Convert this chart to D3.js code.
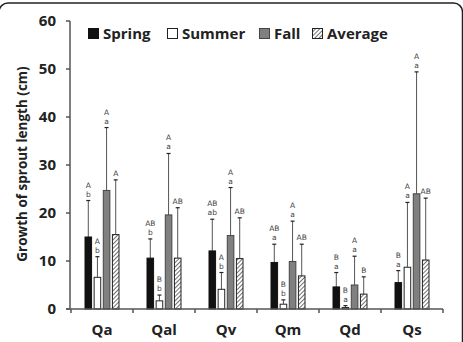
<!DOCTYPE html>
<html><head><meta charset="utf-8">
<script src="https://cdn.jsdelivr.net/npm/d3@7"></script>
<style>body{margin:0;background:#fff}svg{display:block}</style>
</head><body>
<script>
const categories = ["Qa","Qal","Qv","Qm","Qd","Qs"];
const series = ["Spring","Summer","Fall","Average"];
const spring  = [15.0, 10.6, 12.1, 9.7, 4.6, 5.5];
const summer  = [6.6, 1.7, 4.1, 1.0, 0.3, 8.7];
const fall    = [24.7, 19.6, 15.3, 9.9, 5.0, 24.0];
const average = [15.5, 10.6, 10.5, 6.9, 3.1, 10.2];
const springErr  = [22.6, 14.6, 18.7, 13.5, 7.6, 8.0];
const summerErr  = [10.9, 2.9, 7.6, 1.9, 0.7, 22.2];
const fallErr    = [37.8, 32.4, 25.3, 18.3, 11.0, 49.4];
const averageErr = [26.9, 21.1, 19.0, 13.5, 6.7, 23.1];
const springUpper  = ["A","AB","AB","AB","B","B"];
const springLower  = ["b","b","ab","a","a","a"];
const summerUpper  = ["A","B","A","B","B","A"];
const summerLower  = ["b","b","b","b","a","a"];
const fallUpper    = ["A","A","A","A","A","A"];
const fallLower    = ["a","a","a","a","a","a"];
const averageUpper = ["A","AB","AB","AB","B","AB"];
const yTicks = [0,10,20,30,40,50,60];
const yLabel = "Growth of sprout length (cm)";

const W=463,H=342;
const svg=d3.select("body").append("svg").attr("width",W).attr("height",H);
const defs=svg.append("defs");
const pat=defs.append("pattern").attr("id","hatch").attr("patternUnits","userSpaceOnUse")
  .attr("width",3).attr("height",3).attr("patternTransform","rotate(45)");
pat.append("rect").attr("width",3).attr("height",3).attr("fill","#fff");
pat.append("line").attr("x1",0).attr("y1",0).attr("x2",0).attr("y2",3).attr("stroke","#222").attr("stroke-width",1.3);

// frame
svg.append("rect").attr("x",-1).attr("y",3).attr("width",463.5).attr("height",400).attr("rx",9)
  .attr("fill","none").attr("stroke","#222").attr("stroke-width",1.5);

const font="'Open Sans', sans-serif";
const x=d3.scaleBand().domain(categories).range([71,443]);
const xi=d3.scaleBand().domain(series).range([-17,17]).paddingInner(0.28);
const y=d3.scaleLinear().domain([0,60]).range([309,21]);

const styles={
  Spring:{fill:"#111",stroke:"#111"},
  Summer:{fill:"#fff",stroke:"#222"},
  Fall:{fill:"#808080",stroke:"#444"},
  Average:{fill:"url(#hatch)",stroke:"#222"}
};
const vals={Spring:spring,Summer:summer,Fall:fall,Average:average};
const errs={Spring:springErr,Summer:summerErr,Fall:fallErr,Average:averageErr};
const ups={Spring:springUpper,Summer:summerUpper,Fall:fallUpper,Average:averageUpper};
const lows={Spring:springLower,Summer:summerLower,Fall:fallLower,Average:null};

const data=[];
categories.forEach((c,i)=>series.forEach(s=>data.push({c,s,v:vals[s][i],e:errs[s][i],u:ups[s][i],l:lows[s]?lows[s][i]:null})));

const cx=d=>x(d.c)+x.bandwidth()/2+xi(d.s);
const bw=xi.bandwidth();

// error bars
const eg=svg.append("g").attr("stroke","#555").attr("stroke-width",1);
data.forEach(d=>{
  const mx=cx(d)+bw/2;
  eg.append("line").attr("x1",mx).attr("x2",mx).attr("y1",y(d.v)).attr("y2",y(d.e));
  eg.append("line").attr("x1",mx-2).attr("x2",mx+2).attr("y1",y(d.e)).attr("y2",y(d.e)).attr("stroke","#222").attr("stroke-width",1.2);
});

// bars
svg.append("g").selectAll("rect").data(data).join("rect")
  .attr("x",d=>cx(d)).attr("width",bw)
  .attr("y",d=>y(d.v)).attr("height",d=>y(0)-y(d.v))
  .attr("fill",d=>styles[d.s].fill).attr("stroke",d=>styles[d.s].stroke).attr("stroke-width",1);

// letters
const lg=svg.append("g").attr("font-family","'DejaVu Sans', sans-serif").attr("font-size",7.5).attr("fill","#444").attr("text-anchor","middle");
data.forEach(d=>{
  const mx=cx(d)+bw/2;
  if(d.l){
    lg.append("text").attr("x",mx).attr("y",y(d.e)-4).text(d.l);
    lg.append("text").attr("x",mx).attr("y",y(d.e)-13).text(d.u);
  } else {
    lg.append("text").attr("x",mx).attr("y",y(d.e)-4).text(d.u);
  }
});

// axes
const ax=svg.append("g").attr("stroke","#555").attr("stroke-width",1.5);
ax.append("line").attr("x1",70).attr("x2",70).attr("y1",y(60)).attr("y2",y(0));
ax.append("line").attr("x1",66).attr("x2",443).attr("y1",y(0)).attr("y2",y(0));
yTicks.forEach(t=>ax.append("line").attr("x1",66).attr("x2",70).attr("y1",y(t)).attr("y2",y(t)));
const bounds=categories.map(c=>x(c)).concat([x.range()[1]]);
bounds.forEach(b=>ax.append("line").attr("x1",b).attr("x2",b).attr("y1",y(0)).attr("y2",y(0)+4));

svg.append("g").selectAll("text").data(yTicks).join("text")
  .attr("x",56).attr("y",d=>y(d)).attr("dy","0.35em").attr("text-anchor","end")
  .attr("font-family",font).attr("font-weight","bold").attr("font-size",15).attr("fill","#222").text(d=>d);

svg.append("g").selectAll("text").data(categories).join("text")
  .attr("x",d=>x(d)+x.bandwidth()/2).attr("y",335).attr("text-anchor","middle")
  .attr("font-family",font).attr("font-weight","bold").attr("font-size",15).attr("fill","#222").text(d=>d);

svg.append("text").attr("transform","translate(27,164) rotate(-90)").attr("text-anchor","middle")
  .attr("font-family",font).attr("font-weight","bold").attr("font-size",13.5).attr("fill","#222").text(yLabel);

// legend
const legX=[88,167,259,312];
const leg=svg.append("g");
series.forEach((s,i)=>{
  leg.append("rect").attr("x",legX[i]+0.5).attr("y",28.5).attr("width",10).attr("height",10)
    .attr("fill",styles[s].fill).attr("stroke",styles[s].stroke).attr("stroke-width",1);
  leg.append("text").attr("x",legX[i]+15).attr("y",39).attr("font-family",font).attr("font-weight","bold")
    .attr("font-size",15).attr("fill","#222").text(s);
});
</script>
</body></html>
